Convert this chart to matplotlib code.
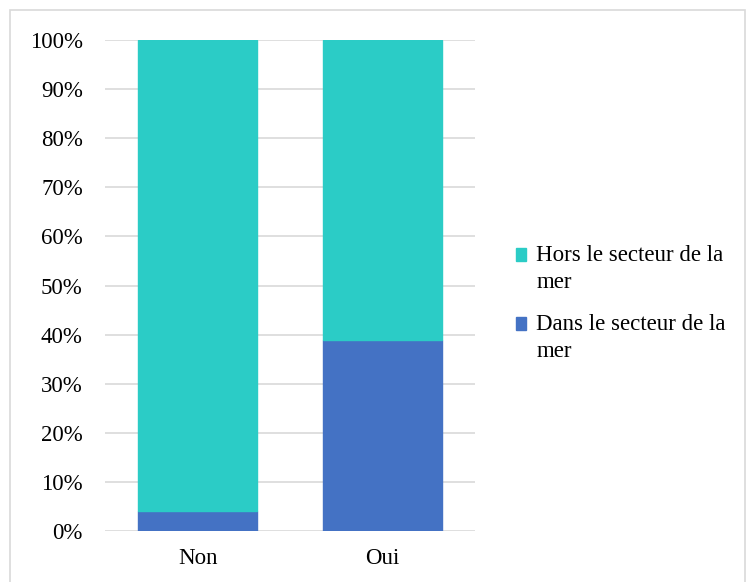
import matplotlib.pyplot as plt
from matplotlib.patches import Rectangle
from matplotlib.legend_handler import HandlerPatch
from matplotlib.ticker import PercentFormatter

categories = ["Non", "Oui"]
dans_mer = [4, 39]
hors_mer = [96, 61]
series_labels = ["Hors le secteur de la\nmer", "Dans le secteur de la\nmer"]

plt.rcParams['font.family'] = ['Liberation Serif', 'DejaVu Serif']

fig = plt.figure(figsize=(7.48, 5.82), dpi=100)
ax = fig.add_axes([0.1404, 0.0876, 0.495, 0.8437])

x = range(len(categories))
b1 = ax.bar(x, dans_mer, width=0.643, color="#4472C4", edgecolor="#4472C4", zorder=3)
b2 = ax.bar(x, hors_mer, width=0.643, bottom=dans_mer, color="#2BCCC6", edgecolor="#2BCCC6", zorder=3)

ax.set_xlim(-0.5, 1.5)
ax.set_ylim(0, 100)
ax.set_yticks(range(0, 101, 10))
ax.yaxis.set_major_formatter(PercentFormatter(decimals=0))
ax.set_xticks(list(x))
ax.set_xticklabels(categories)
ax.grid(axis='y', color='#D9D9D9', linewidth=1.2, zorder=0)
for s in ax.spines.values():
    s.set_visible(False)
ax.tick_params(length=0, labelsize=16.5)
ax.tick_params(axis='y', pad=16)
ax.tick_params(axis='x', pad=12)


# square marker next to the first line of the wrapped label
def top_square(legend, orig_handle, xdescent, ydescent, width, height, fontsize):
    return Rectangle((-xdescent, -ydescent + 0.62 * fontsize), width, height)


h_hors = b2.patches[0]
h_dans = b1.patches[0]
leg = fig.legend([h_hors, h_dans], series_labels, loc='upper left', bbox_to_anchor=(0.662, 0.615),
                 frameon=False, fontsize=16.5, handlelength=0.45, handleheight=0.45,
                 handletextpad=0.45, labelspacing=0.9,
                 handler_map={h_hors: HandlerPatch(patch_func=top_square),
                              h_dans: HandlerPatch(patch_func=top_square)})
for t in leg.get_texts():
    t.set_linespacing(1.4)

# chart border
fig.patches.append(Rectangle((10 / 748, -5 / 582), 735 / 748, 577 / 582,
                             transform=fig.transFigure, fill=False,
                             edgecolor='#D9D9D9', linewidth=1.2))

fig.savefig("out.png", dpi=100)
